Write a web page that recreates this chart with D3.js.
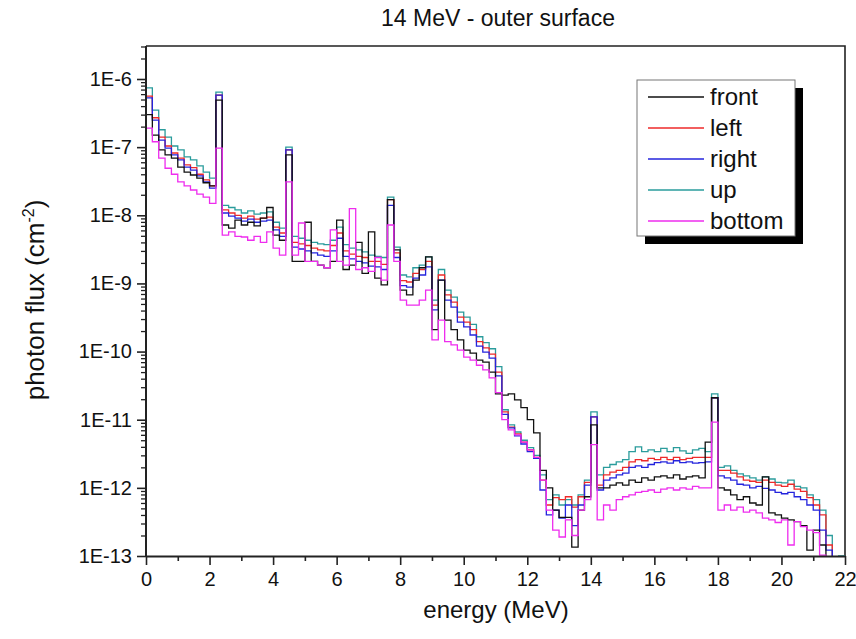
<!DOCTYPE html>
<html><head><meta charset="utf-8">
<script src="https://cdn.jsdelivr.net/npm/d3@7"></script>
<style>body{margin:0;background:#fff;} svg{display:block;font-family:Arial,"Liberation Sans",sans-serif;}</style>
</head><body><svg id="c" width="856" height="639"></svg>
<script>
// bin start energies (MeV), 0.2 MeV bins from 0 to 22
const binWidth = 0.2;
const energy = d3.range(110).map(i => i / 5);

const seriesNames = ["front", "left", "right", "up", "bottom"];
const seriesColors = ["#111111", "#ee2a2a", "#2424dd", "#2a9c9c", "#ee2cee"];

const front = [3.0e-7,1.5e-7,9.1e-8,7.7e-8,6.9e-8,5.1e-8,4.3e-8,3.9e-8,3.5e-8,3.0e-8,
2.7e-8,4.9e-7,7.2e-9,6.5e-9,8.5e-9,7.2e-9,7.9e-9,7.0e-9,9.1e-9,1.3e-8,
5.1e-9,4.3e-9,7.7e-8,2.1e-9,2.1e-9,7.9e-9,2.1e-9,1.86e-9,1.7e-9,2.1e-9,
8.5e-9,1.6e-9,1.86e-9,4.0e-9,1.4e-9,5.7e-9,1.2e-9,9.5e-10,1.7e-8,3.1e-9,
8.0e-10,6.8e-10,1.12e-9,1.7e-9,2.45e-9,2.1e-10,1.12e-9,2.9e-10,2.1e-10,1.48e-10,
1.05e-10,9.5e-11,7.5e-11,7.0e-11,5.0e-11,2.4e-11,2.3e-11,2.4e-11,1.95e-11,1.5e-11,
1.0e-11,6.4e-12,1.8e-12,1.0e-12,4.7e-13,3.7e-13,3.7e-13,1.35e-13,4.7e-13,7.4e-13,
8.4e-12,1.0e-12,1.0e-12,1.1e-12,1.18e-12,1.1e-12,1.3e-12,1.2e-12,1.4e-12,1.3e-12,
1.45e-12,1.5e-12,1.4e-12,1.55e-12,1.35e-12,1.45e-12,1.5e-12,1.4e-12,4.7e-12,2.1e-11,
1.0e-12,9.3e-13,7.9e-13,6.7e-13,7.4e-13,6.0e-13,5.6e-13,1.45e-12,4.3e-13,4.0e-13,
3.6e-13,3.4e-13,3.2e-13,2.8e-13,1.22e-13,2.4e-13,1.45e-13,5e-14,5e-14,5e-14];

const left = [5.6e-7,2.7e-7,1.4e-7,1.04e-7,8.2e-8,6.9e-8,5.5e-8,5.0e-8,4.0e-8,3.3e-8,
2.7e-8,5.8e-7,1.2e-8,1.08e-8,1.0e-8,9.1e-9,9.7e-9,8.8e-9,9.1e-9,9.4e-9,
6.7e-9,5.5e-9,9.1e-8,4.0e-9,3.8e-9,3.6e-9,3.3e-9,3.1e-9,3.0e-9,3.6e-9,
5.5e-9,3.0e-9,2.7e-9,2.5e-9,2.4e-9,2.1e-9,2.1e-9,1.9e-9,1.7e-8,2.8e-9,
1.1e-9,1.05e-9,1.4e-9,1.6e-9,2.1e-9,4.8e-10,1.33e-9,6.8e-10,5.3e-10,3.2e-10,
2.7e-10,2.1e-10,1.4e-10,1.13e-10,9.2e-11,5.0e-11,1.3e-11,7.8e-12,6.2e-12,4.7e-12,
3.6e-12,2.8e-12,1.3e-12,5.6e-13,7.2e-13,6.7e-13,7.4e-13,5.2e-13,7.4e-13,1.2e-12,
1.1e-11,1.1e-12,1.55e-12,1.7e-12,1.8e-12,2.0e-12,2.4e-12,2.6e-12,2.5e-12,2.7e-12,
2.6e-12,2.8e-12,2.6e-12,2.8e-12,2.6e-12,2.7e-12,2.8e-12,2.8e-12,2.8e-12,2.1e-11,
1.8e-12,1.8e-12,1.65e-12,1.45e-12,1.3e-12,1.25e-12,1.2e-12,1.3e-12,1.2e-12,1.1e-12,
1.05e-12,1.13e-12,9.6e-13,8.9e-13,7.2e-13,5.6e-13,4.0e-13,1.45e-13,5e-14,5e-14];

const right = [5.3e-7,2.5e-7,1.27e-7,9.7e-8,7.7e-8,6.5e-8,5.1e-8,4.6e-8,3.8e-8,3.1e-8,
2.5e-8,5.8e-7,1.08e-8,9.7e-9,9.1e-9,8.2e-9,8.8e-9,7.9e-9,8.2e-9,8.5e-9,
6.1e-9,4.9e-9,9.1e-8,3.4e-9,3.2e-9,3.0e-9,2.8e-9,2.6e-9,2.5e-9,3.0e-9,
4.6e-9,2.5e-9,2.3e-9,2.1e-9,2.0e-9,1.8e-9,1.75e-9,1.6e-9,1.4e-8,2.4e-9,
9.3e-10,8.8e-10,1.2e-9,1.33e-9,1.75e-9,4.1e-10,1.12e-9,5.7e-10,4.5e-10,2.7e-10,
2.3e-10,1.75e-10,1.2e-10,9.8e-11,8.0e-11,4.4e-11,1.2e-11,7.6e-12,5.8e-12,4.4e-12,
3.4e-12,2.7e-12,9.3e-13,4.0e-13,4.7e-13,3.6e-13,5.6e-13,2.8e-13,5.6e-13,1.1e-12,
1.1e-11,9.3e-13,1.3e-12,1.4e-12,1.55e-12,1.65e-12,2.0e-12,2.1e-12,2.0e-12,2.2e-12,
2.35e-12,2.4e-12,2.3e-12,2.5e-12,2.35e-12,2.4e-12,2.3e-12,2.35e-12,2.4e-12,2.1e-11,
1.5e-12,1.4e-12,1.3e-12,1.13e-12,1.1e-12,1.0e-12,1.05e-12,9.8e-13,9.3e-13,8.6e-13,
8.2e-13,8.6e-13,7.4e-13,6.7e-13,5.6e-13,4.7e-13,2.4e-13,1.22e-13,5e-14,5e-14];

const up = [7.4e-7,3.5e-7,1.8e-7,1.4e-7,1.04e-7,9.1e-8,7.2e-8,6.5e-8,5.3e-8,4.3e-8,
3.5e-8,6.4e-7,1.4e-8,1.3e-8,1.2e-8,1.08e-8,1.16e-8,1.04e-8,1.08e-8,1.12e-8,
7.9e-9,6.5e-9,1.0e-7,4.9e-9,4.6e-9,4.3e-9,4.0e-9,3.8e-9,3.7e-9,4.3e-9,
6.7e-9,3.7e-9,3.3e-9,3.1e-9,2.9e-9,2.6e-9,2.5e-9,2.4e-9,1.85e-8,3.4e-9,
1.33e-9,1.25e-9,1.7e-9,1.86e-9,2.45e-9,5.7e-10,1.6e-9,8.0e-10,6.3e-10,3.8e-10,
3.2e-10,2.5e-10,1.65e-10,1.35e-10,1.1e-10,6.0e-11,1.4e-11,8.4e-12,6.6e-12,5.0e-12,
3.9e-12,3.0e-12,1.55e-12,6.7e-13,7.9e-13,5.6e-13,6.7e-13,5.6e-13,7.9e-13,1.3e-12,
1.3e-11,1.55e-12,2.0e-12,2.2e-12,2.4e-12,2.6e-12,3.4e-12,4.0e-12,3.4e-12,3.6e-12,
3.4e-12,3.8e-12,3.4e-12,3.9e-12,3.5e-12,3.2e-12,3.6e-12,3.8e-12,3.4e-12,2.4e-11,
2.0e-12,2.1e-12,1.8e-12,1.6e-12,1.5e-12,1.4e-12,1.3e-12,1.45e-12,1.35e-12,1.2e-12,
1.18e-12,1.3e-12,1.05e-12,1.0e-12,7.9e-13,6.7e-13,4.7e-13,2.0e-13,5e-14,1e-13];

const bottom = [1.9e-7,1.2e-7,6.9e-8,4.9e-8,4.0e-8,3.1e-8,2.7e-8,2.35e-8,2.05e-8,1.85e-8,
1.5e-8,9.7e-8,5.1e-9,5.7e-9,4.9e-9,4.8e-9,4.3e-9,4.9e-9,4.0e-9,5.7e-9,
3.3e-9,2.6e-9,3.1e-8,2.6e-9,7.7e-9,2.1e-9,2.1e-9,1.86e-9,1.7e-9,6.1e-9,
2.1e-9,1.86e-9,1.25e-8,1.6e-9,1.7e-9,1.5e-9,2.4e-9,1.12e-9,7.2e-9,2.1e-9,
5.7e-10,4.8e-10,4.8e-10,5.7e-10,8.0e-10,1.48e-10,2.9e-10,1.4e-10,1.25e-10,1.05e-10,
8.3e-11,7.5e-11,6.3e-11,5.4e-11,4.1e-11,2.5e-11,1.0e-11,7.1e-12,6.0e-12,4.7e-12,
3.6e-12,2.8e-12,1.3e-12,4.7e-13,2.4e-13,1.9e-13,3.4e-13,2.0e-13,4.7e-13,6.7e-13,
4.3e-12,3.4e-13,5.6e-13,4.7e-13,6.7e-13,7.4e-13,7.9e-13,8.6e-13,8.9e-13,9.3e-13,
8.6e-13,9.6e-13,1.0e-12,9.3e-13,1.0e-12,9.6e-13,1.05e-12,1.0e-12,1.0e-12,9.2e-12,
4.7e-13,5.6e-13,4.7e-13,5.2e-13,4.4e-13,4.7e-13,4.3e-13,3.6e-13,3.4e-13,3.1e-13,
3.4e-13,1.45e-13,3.2e-13,2.7e-13,2.4e-13,2.2e-13,1.03e-13,5e-14,5e-14,5e-14];

const xTicks = [0,2,4,6,8,10,12,14,16,18,20,22];
const yTicks = [1e-13,1e-12,1e-11,1e-10,1e-9,1e-8,1e-7,1e-6];
const yTickLabels = ["1E-13","1E-12","1E-11","1E-10","1E-9","1E-8","1E-7","1E-6"];

const seriesData = {front, left, right, up, bottom};

const svg = d3.select("#c");
const m = {l:146, r:845, t:46, b:556};
const x = d3.scaleLinear().domain([0,22]).range([m.l, m.r]);
const y = d3.scaleLog().domain([1e-13, 3.05e-6]).range([m.b, m.t]);

svg.append("defs").append("clipPath").attr("id","clip")
  .append("rect").attr("x",m.l).attr("y",m.t).attr("width",m.r-m.l).attr("height",m.b-m.t);

// frame (top, right)
svg.append("path").attr("d",`M${m.l},${m.t}H${m.r}V${m.b}`).attr("fill","none").attr("stroke","#222").attr("stroke-width",1.6);

// data
const line = d3.line().x(d=>x(d[0])).y(d=>y(Math.max(d[1],1e-15))).curve(d3.curveStepAfter);
const drawOrder = ["up","left","right","front","bottom"];
const g = svg.append("g").attr("clip-path","url(#clip)");
drawOrder.forEach(name=>{
  const vals = seriesData[name];
  const pts = vals.map((v,i)=>[energy[i], v]);
  pts.push([energy[vals.length-1]+binWidth, vals[vals.length-1]]);
  g.append("path").datum(pts).attr("d",line).attr("fill","none")
   .attr("stroke",seriesColors[seriesNames.indexOf(name)]).attr("stroke-width",1.3)
   .attr("stroke-linejoin","miter");
});

// axes
const minorY = [];
for (let e=-13;e<=-6;e++) for (let k=2;k<=9;k++){ const v=k*Math.pow(10,e); if(v<=3.05e-6) minorY.push(v); }
const yAxisMinor = svg.append("g").attr("transform",`translate(${m.l},0)`)
  .call(d3.axisLeft(y).tickValues(minorY).tickSize(5).tickFormat("").tickSizeOuter(0));
yAxisMinor.select(".domain").remove();
yAxisMinor.selectAll("line").attr("stroke","#222").attr("stroke-width",1.3);
const yAxis = svg.append("g").attr("transform",`translate(${m.l},0)`)
  .call(d3.axisLeft(y).tickValues(yTicks).tickSize(9).tickPadding(5).tickSizeOuter(0)
        .tickFormat((d,i)=>yTickLabels[i]));
yAxis.select(".domain").attr("stroke","#222").attr("stroke-width",2).attr("d",`M0,${m.t}V${m.b}`);
yAxis.selectAll("line").attr("stroke","#222").attr("stroke-width",1.6);
yAxis.selectAll("text").attr("font-size",20).attr("fill","#111").attr("font-family","Arial, 'Liberation Sans', sans-serif");

const xAxisMinor = svg.append("g").attr("transform",`translate(0,${m.b})`)
  .call(d3.axisBottom(x).tickValues(d3.range(1,22,2)).tickSize(5).tickFormat("").tickSizeOuter(0));
xAxisMinor.select(".domain").remove();
xAxisMinor.selectAll("line").attr("stroke","#222").attr("stroke-width",1.6);
const xAxis = svg.append("g").attr("transform",`translate(0,${m.b})`)
  .call(d3.axisBottom(x).tickValues(xTicks).tickSize(9).tickPadding(7).tickSizeOuter(0).tickFormat(d3.format("d")));
xAxis.select(".domain").attr("stroke","#222").attr("stroke-width",2);
xAxis.selectAll("line").attr("stroke","#222").attr("stroke-width",1.6);
xAxis.selectAll("text").attr("font-size",20).attr("fill","#111").attr("font-family","Arial, 'Liberation Sans', sans-serif");

// titles
svg.append("text").attr("x",498).attr("y",26).attr("text-anchor","middle").attr("font-size",23).attr("fill","#111")
  .text("14 MeV - outer surface");
svg.append("text").attr("x",496).attr("y",618).attr("text-anchor","middle").attr("font-size",24).attr("fill","#111")
  .text("energy (MeV)");
const yl = svg.append("text").attr("transform","translate(44,300) rotate(-90)").attr("text-anchor","middle")
  .attr("font-size",26).attr("fill","#111");
yl.append("tspan").text("photon flux (cm");
yl.append("tspan").attr("dy",-10).attr("font-size",16).text("-2");
yl.append("tspan").attr("dy",10).text(")");

// legend
const lg = svg.append("g");
lg.append("rect").attr("x",645).attr("y",88).attr("width",158).attr("height",156).attr("fill","#000");
lg.append("rect").attr("x",637).attr("y",80).attr("width",158).attr("height",156).attr("fill","#fff").attr("stroke","#777").attr("stroke-width",1);
seriesNames.forEach((name,i)=>{
  const yy = 97 + i*31;
  lg.append("line").attr("x1",648).attr("x2",704).attr("y1",yy).attr("y2",yy)
    .attr("stroke",seriesColors[i]).attr("stroke-width",1.5);
  lg.append("text").attr("x",710).attr("y",yy+8).attr("font-size",24).attr("fill","#111").text(name);
});
</script></body></html>
